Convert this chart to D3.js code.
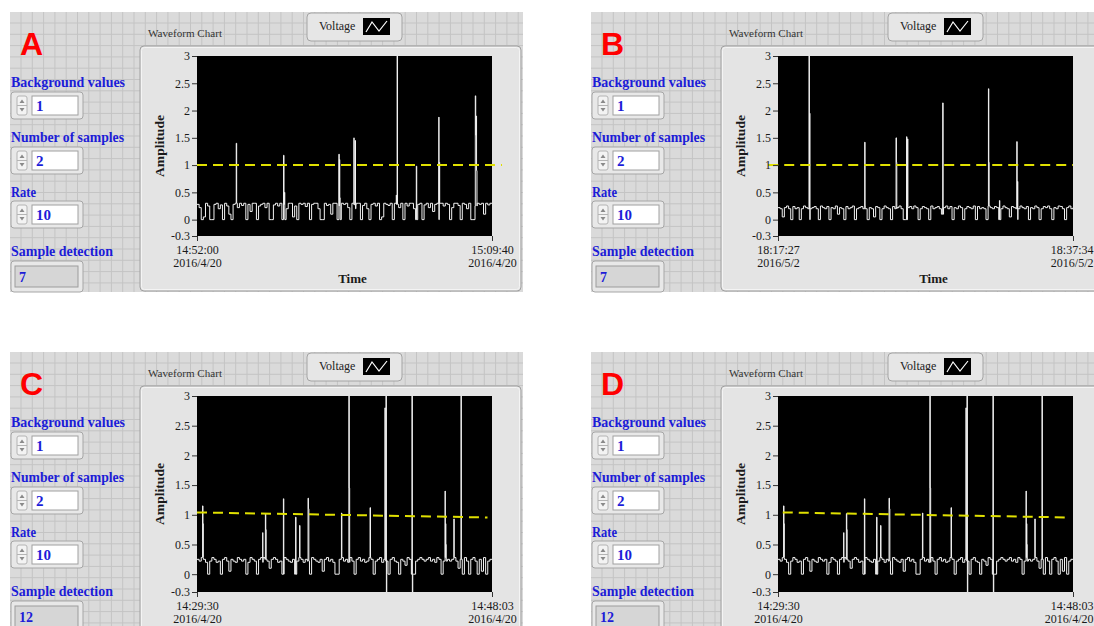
<!DOCTYPE html>
<html>
<head>
<meta charset="utf-8">
<script src="https://cdn.jsdelivr.net/npm/d3@7"></script>
<style>
  body { margin: 0; background: #fff; }
  svg { display: block; }
</style>
</head>
<body>
<svg id="chart"></svg>
<script>
// ---- data ----
const controlNames = ["Background values", "Number of samples", "Rate", "Sample detection"];
const yTicks = [3, 2.5, 2, 1.5, 1, 0.5, 0, -0.3];

const controlsA = [1, 2, 10, 7];
const controlsB = [1, 2, 10, 7];
const controlsC = [1, 2, 10, 12];
const controlsD = [1, 2, 10, 12];

const timesA = ["2016-04-20T14:52:00", "2016-04-20T15:09:40"];
const timesB = ["2016-05-02T18:17:27", "2016-05-02T18:37:34"];
const timesC = ["2016-04-20T14:29:30", "2016-04-20T14:48:03"];

// baseline noise (Amplitude), evenly spaced over the run
const baselineA = [0.28,0.22,0,0.05,0.3,0.25,0,0,0.28,0.3,
  0.2,0.27,0,0.3,0.25,0.1,0,0.28,0.3,0.22,
  0.3,0.26,0.3,0,0.28,0.15,0.3,0.3,0,0.25,
  0.28,0.3,0.22,0.3,0,0,0.27,0.3,0.25,0.3,
  0,0.28,0.2,0.3,0.3,0.05,0.25,0,0.3,0.28,
  0.3,0.24,0.3,0,0.28,0.3,0.3,0.2,0,0,
  0.3,0.26,0.28,0.1,0.3,0.3,0,0.25,0.3,0.28,
  0.3,0.22,0,0.3,0.27,0.3,0.3,0,0.26,0.3,
  0.2,0,0.28,0.3,0.25,0.3,0,0.05,0.3,0.28,
  0.26,0.3,0,0.3,0.28,0.22,0.3,0,0.3,0.25,
  0.3,0.3,0.2,0,0.28,0.3,0,0.27,0.3,0.22,
  0.3,0.15,0.28,0.3,0,0.3,0.25,0.3,0.28,0,
  0.22,0.3,0.3,0.26,0,0.3,0.28,0.2,0.3,0,
  0,0.25,0.3,0.28,0.3,0.1,0.3,0.27,0.3,0.3];
const baselineB = [0.22,0.2,0.05,0.22,0.25,0.2,0,0.24,0.2,0.22,
  0,0.2,0.25,0.22,0.2,0,0.22,0.24,0.2,0,
  0.25,0.22,0.2,0.24,0,0.22,0.2,0.25,0.1,0.22,
  0.2,0,0.24,0.2,0.22,0.25,0,0.2,0.22,0.24,
  0.2,0.25,0,0.22,0.2,0.05,0.24,0.22,0,0.2,
  0.25,0.22,0.2,0,0.24,0.2,0.22,0.25,0.2,0,
  0,0.22,0.24,0.2,0.25,0.22,0,0.2,0.24,0.22,
  0.2,0,0.25,0.2,0.22,0.24,0.2,0.1,0.22,0.25,
  0.2,0.24,0,0.22,0.2,0.25,0.22,0,0.2,0.24,
  0.22,0.2,0.25,0,0.24,0.2,0.22,0.2,0,0.25,
  0.22,0.2,0.24,0.22,0,0.2,0.25,0.22,0.2,0.05,
  0.24,0.22,0.2,0,0.25,0.22,0.2,0.24,0,0.22,
  0.2,0.25,0.22,0,0.2,0.24,0.22,0.25,0.2,0,
  0.22,0.2,0.25,0.24,0.2,0,0.22,0.25,0.2,0.22];
const baselineC = [0.25,0.22,0.28,0.25,0.2,0,0.22,0.28,0.25,0.2,
  0.22,0,0.25,0.28,0.22,0.05,0.25,0.22,0.2,0.28,
  0.25,0.22,0.25,0,0.2,0.28,0.25,0.22,0,0.25,
  0.28,0.2,0.25,0.22,0.1,0.25,0.28,0.25,0.2,0.22,
  0,0.28,0.25,0.22,0.2,0.25,0,0.22,0.28,0.25,
  0.2,0.25,0.22,0,0.28,0.25,0.22,0.2,0.25,0.05,
  0.25,0.28,0.22,0.25,0.2,0,0,0.25,0.28,0.22,
  0.25,0.2,0.28,0.22,0,0.25,0.28,0.22,0.25,0.2,
  0.22,0.28,0.25,0,0.22,0.25,0.28,0.2,0.25,0.22,
  0,0.25,0.28,0.22,0.2,0,0.25,0.22,0.15,0.28,
  0.25,0,0,0.22,0.25,0.28,0.25,0.22,0.25,0.28,
  0.22,0.25,0.2,0.28,0.25,0,0.22,0.28,0.25,0.22,
  0.25,0.28,0.22,0.1,0.25,0,0.28,0.22,0,0.25,
  0.28,0.22,0,0.25,0.05,0.28,0,0.22,0.25,0.25];

// spikes: [seconds from start, values held ~1.5 s each]
const spikesA = [[141, 1.4], [311, 1.18, 1.05, 0.5], [510, 1.2, 1.1, 0.4],
  [564, 1.5, 0.3], [568, 1.45, 0.2], [716, 0.45], [719, 3.5], [788, 0.98],
  [869, 1.88, 1.05, 0.3], [1000, 2.27, 1.55, 1.9, 0.9]];
const spikesB = [[127, 3.5], [130, 1.95], [355, 1.42], [483, 1.5, 1.05],
  [526, 1.52], [530, 1.48], [674, 2.14], [861, 2.4, 1.05], [906, 0.35],
  [977, 1.43], [980, 0.7]];
const spikesC = [[21, 1.15, 0.85], [248, 0.7], [258, 1.02, 0.75], [326, 1.27],
  [372, 0.96], [387, 0.82], [419, 1.28, 1.1], [545, 1.03], [573, 3.5, 1.45],
  [653, 1.12], [709, 2.8], [713, 3.5, -0.5], [811, 3.5, -0.5],
  [936, 1.4, 0.85, 0.5], [969, 0.93], [996, 3.5]];

// yellow dashed threshold: [seconds, amplitude] at both ends
const thresholdA = [[0, 1], [1096, 1]];
const thresholdB = [[-40, 1], [1207, 1]];
const thresholdC = [[0, 1.04], [1096, 0.955]];
const thresholdD = [[18, 1.04], [1095, 0.955]];

const panels = [
  {letter: "A", ox: 10, oy: 12, plotH: 180, baseline: baselineA, spikes: spikesA, threshold: thresholdA, controls: controlsA, times: timesA},
  {letter: "B", ox: 591, oy: 12, plotH: 180, baseline: baselineB, spikes: spikesB, threshold: thresholdB, controls: controlsB, times: timesB},
  {letter: "C", ox: 10, oy: 352, plotH: 196, baseline: baselineC, spikes: spikesC, threshold: thresholdC, controls: controlsC, times: timesC},
  {letter: "D", ox: 591, oy: 352, plotH: 196, baseline: baselineC, spikes: spikesC, threshold: thresholdD, controls: controlsD, times: timesC}
];

const width = 1094, height = 626;
const svg = d3.select("#chart").attr("width", width).attr("height", height);
const serif = "'Liberation Serif', 'DejaVu Serif', serif";
const blue = "#1c1cd8";
const parse = d3.timeParse("%Y-%m-%dT%H:%M:%S");

const defs = svg.append("defs");

panels.forEach(function (p, pi) {
  const g = svg.append("g").attr("transform", `translate(${p.ox},${p.oy})`);
  const pw = 513;
  const gh = p.oy > 300 ? 300 : 280;

  // grid background
  g.append("rect").attr("width", pw).attr("height", gh).attr("fill", "#dadada");
  g.append("g").selectAll("line").data(d3.range(11, pw, 11.3)).join("line")
    .attr("x1", d => d).attr("x2", d => d).attr("y1", 0).attr("y2", gh)
    .attr("stroke", "#c4c4c4").attr("stroke-width", 1);
  g.append("g").selectAll("line").data(d3.range(11, gh, 11.3)).join("line")
    .attr("y1", d => d).attr("y2", d => d).attr("x1", 0).attr("x2", pw)
    .attr("stroke", "#c4c4c4").attr("stroke-width", 1);

  // panel letter
  g.append("text").attr("x", 10).attr("y", 43)
    .attr("font-family", "'Liberation Sans', Arial, sans-serif").attr("font-weight", "bold")
    .attr("font-size", 32).attr("fill", "#ff0000").text(p.letter);

  // controls
  const labelY = [75, 130, 185, 244], boxY = [80, 135, 189, 249];
  const labelW = [114, 113, 25, 102];
  controlNames.forEach(function (name, i) {
    g.append("text").attr("x", 1).attr("y", labelY[i])
      .attr("font-family", serif).attr("font-weight", "bold").attr("font-size", 14)
      .attr("fill", blue).attr("textLength", labelW[i]).attr("lengthAdjust", "spacingAndGlyphs")
      .text(name);
    const c = g.append("g").attr("transform", `translate(1,${boxY[i]})`);
    if (i < 3) {
      c.append("rect").attr("width", 72).attr("height", 27).attr("rx", 3)
        .attr("fill", "#e8e8e8").attr("stroke", "#a6a6a6");
      c.append("rect").attr("x", 6).attr("y", 4).attr("width", 10).attr("height", 19).attr("rx", 2)
        .attr("fill", "#f3f3f3").attr("stroke", "#b4b4b4");
      c.append("line").attr("x1", 6).attr("x2", 16).attr("y1", 13.5).attr("y2", 13.5).attr("stroke", "#b4b4b4");
      c.append("path").attr("d", "M8.5,11 L11,7.5 L13.5,11 Z").attr("fill", "#8a8a8a");
      c.append("path").attr("d", "M8.5,16 L11,19.5 L13.5,16 Z").attr("fill", "#8a8a8a");
      c.append("rect").attr("x", 21).attr("y", 4).attr("width", 46).attr("height", 19)
        .attr("fill", "#ffffff").attr("stroke", "#a0a0a0");
      c.append("text").attr("x", 25).attr("y", 19).attr("font-family", serif)
        .attr("font-weight", "bold").attr("font-size", 15).attr("fill", blue).text(p.controls[i]);
    } else {
      c.append("rect").attr("width", 72).attr("height", 31).attr("rx", 3)
        .attr("fill", "#e8e8e8").attr("stroke", "#a6a6a6");
      c.append("rect").attr("x", 4).attr("y", 5).attr("width", 63).attr("height", 21)
        .attr("fill", "#d6d6d6").attr("stroke", "#9c9c9c");
      c.append("text").attr("x", 8).attr("y", 21).attr("font-family", serif)
        .attr("font-weight", "bold").attr("font-size", 14).attr("fill", blue).text(p.controls[i]);
    }
  });

  // chart frame
  g.append("rect").attr("x", 130).attr("y", 34).attr("width", 381).attr("height", p.plotH + 65)
    .attr("rx", 4).attr("fill", "#e4e4e4").attr("stroke", "#a0a0a0");
  g.append("rect").attr("x", 131.5).attr("y", 35.5).attr("width", 378).attr("height", p.plotH + 62)
    .attr("rx", 3).attr("fill", "none").attr("stroke", "#f4f4f4");

  g.append("text").attr("x", 138).attr("y", 25).attr("font-family", serif)
    .attr("font-size", 11).attr("fill", "#333").attr("textLength", 74)
    .attr("lengthAdjust", "spacingAndGlyphs").text("Waveform Chart");

  // legend
  const lg = g.append("g").attr("transform", "translate(297,1)");
  lg.append("rect").attr("width", 95).attr("height", 28).attr("rx", 4)
    .attr("fill", "#e6e6e6").attr("stroke", "#a4a4a4");
  lg.append("text").attr("x", 12).attr("y", 17).attr("font-family", serif)
    .attr("font-size", 12).attr("fill", "#222").text("Voltage");
  lg.append("rect").attr("x", 56).attr("y", 5).attr("width", 27).attr("height", 17).attr("fill", "#000");
  lg.append("path").attr("d", "M59,19 L65,9 L72,18 L80,8").attr("fill", "none")
    .attr("stroke", "#fff").attr("stroke-width", 1.2);

  // plot
  const px = 187, py = 44, pwid = 295, phgt = p.plotH;
  const t0 = parse(p.times[0]), t1 = parse(p.times[1]);
  const dur = (t1 - t0) / 1000;
  const x = d3.scaleTime().domain([t0, t1]).range([0, pwid]);
  const y = d3.scaleLinear().domain([-0.3, 3]).range([phgt, 0]);
  const at = s => new Date(t0.getTime() + s * 1000);

  const plot = g.append("g").attr("transform", `translate(${px},${py})`);
  plot.append("rect").attr("width", pwid).attr("height", phgt).attr("fill", "#000");

  const clipId = "clip" + pi;
  defs.append("clipPath").attr("id", clipId).append("rect").attr("width", pwid).attr("height", phgt);

  // build series: baseline + spikes
  const step = dur / (p.baseline.length - 1);
  const pts = p.baseline.map((v, i) => ({t: i * step, v: v}));
  p.spikes.forEach(function (s) {
    const start = s[0];
    const vals = s.slice(1);
    vals.forEach((v, k) => pts.push({t: start + 1.5 * k, v: v}));
    const bi = Math.min(p.baseline.length - 1, Math.floor(start / step));
    pts.push({t: start + 1.5 * vals.length, v: p.baseline[bi]});
  });
  pts.sort((a, b) => a.t - b.t);

  const line = d3.line().x(d => x(at(d.t))).y(d => y(d.v)).curve(d3.curveStepAfter);
  plot.append("path").datum(pts).attr("clip-path", `url(#${clipId})`)
    .attr("d", line).attr("fill", "none").attr("stroke", "#f2f2f2").attr("stroke-width", 1);

  // threshold
  plot.append("path").datum(p.threshold)
    .attr("d", d3.line().x(d => x(at(d[0]))).y(d => y(d[1])))
    .attr("fill", "none").attr("stroke", "#e0e000").attr("stroke-width", 2)
    .attr("stroke-dasharray", "10,6");

  // axes
  const yAxis = plot.append("g").call(d3.axisLeft(y).tickValues(yTicks).tickSize(5)
    .tickPadding(2).tickFormat(d => String(d)));
  yAxis.select(".domain").remove();
  yAxis.selectAll("line").attr("stroke", "#333");
  yAxis.selectAll("text").attr("font-family", serif).attr("font-size", 12).attr("fill", "#1a1a1a");

  const xAxis = plot.append("g").attr("transform", `translate(0,${phgt})`)
    .call(d3.axisBottom(x).tickValues([t0, t1]).tickSize(5).tickFormat(d3.timeFormat("%H:%M:%S")));
  xAxis.select(".domain").remove();
  xAxis.selectAll("line").attr("stroke", "#333");
  xAxis.selectAll("text").attr("font-family", serif).attr("font-size", 12).attr("fill", "#1a1a1a")
    .attr("y", 14).attr("dy", "0.32em");
  const dateFmt = d => `${d.getFullYear()}/${d.getMonth() + 1}/${d.getDate()}`;
  xAxis.selectAll(".tick").append("text").attr("y", 27).attr("dy", "0.32em")
    .attr("text-anchor", "middle").attr("font-family", serif).attr("font-size", 12)
    .attr("fill", "#1a1a1a").text(d => dateFmt(d));

  // keep right-hand tick labels inside the window
  const rightRoom = width - (p.ox + px + pwid) - 1;
  xAxis.selectAll(".tick text").each(function () {
    const half = this.getComputedTextLength() / 2;
    if (half > rightRoom && +d3.select(this.parentNode).attr("transform").match(/[\d.]+/)[0] > 1) {
      d3.select(this).attr("x", rightRoom - half);
    }
  });

  if (p.oy + py + phgt + 47 < height) {
    plot.append("text").attr("x", pwid / 2 + 8).attr("y", phgt + 47)
      .attr("text-anchor", "middle").attr("font-family", serif).attr("font-weight", "bold")
      .attr("font-size", 13).attr("fill", "#1a1a1a").text("Time");
  }
  plot.append("text").attr("transform", `translate(-33,${phgt / 2}) rotate(-90)`)
    .attr("text-anchor", "middle").attr("font-family", serif).attr("font-weight", "bold")
    .attr("font-size", 13).attr("fill", "#1a1a1a").attr("textLength", 62)
    .attr("lengthAdjust", "spacingAndGlyphs").text("Amplitude");
});
</script>
</body>
</html>
